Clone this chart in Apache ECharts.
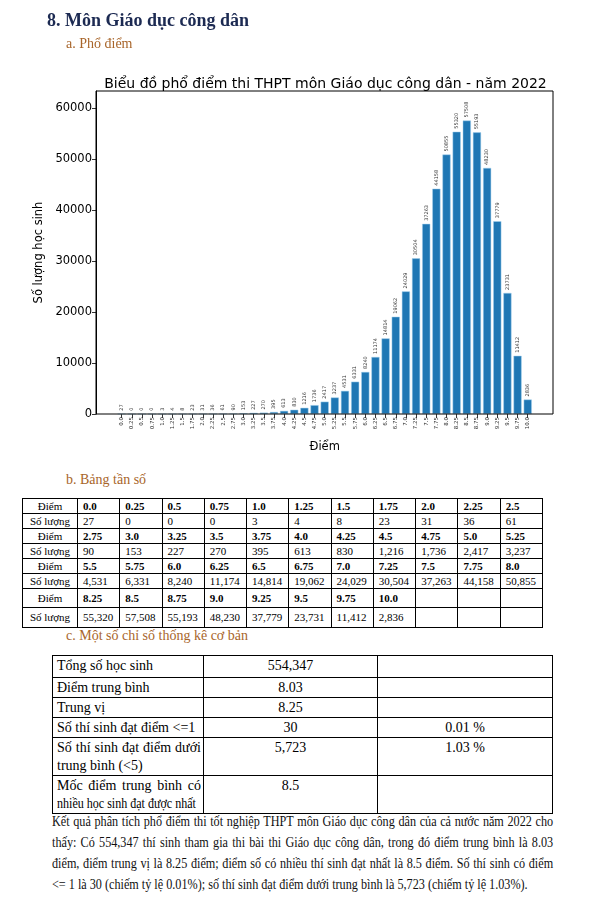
<!DOCTYPE html>
<html><head><meta charset="utf-8">
<script src="https://cdn.jsdelivr.net/npm/echarts@6/dist/echarts.min.js"></script>
<style>
html,body{margin:0;padding:0;background:#fff;width:606px;height:905px;overflow:hidden;}
#chart{position:absolute;left:0;top:0;width:606px;height:465px;}
.abs{position:absolute;font-family:"Liberation Serif","Times New Roman",serif;}
#h1{left:47px;top:10px;font-size:18px;font-weight:bold;color:#1c2a52;}
.sub{font-size:14px;color:#a8652a;}
table{border-collapse:collapse;}
#tb td{border:1px solid #000;font-size:11px;padding:0 0 0 5px;height:14px;line-height:13px;font-family:"Liberation Serif",serif;}
#tb td.lab{text-align:center;padding:0;}
#tb tr.pt td{font-weight:bold;}
#tb tr.pt td.lab{font-weight:normal;}
#tc{table-layout:fixed;}
#tc td{border:1px solid #000;font-size:14px;line-height:18px;padding:0 3px;vertical-align:top;font-family:"Liberation Serif",serif;overflow:visible;}
#tc td.c1{text-align:justify;padding:1px 2px 0 4px;}
#tc td.c2,#tc td.c3{text-align:center;padding-top:1px;}
#tc .l1{text-align:justify;text-align-last:justify;white-space:nowrap;}
#tc .l2{white-space:nowrap;transform:scaleX(0.86);transform-origin:0 0;}
#para{left:52px;top:811px;width:576px;font-size:14px;line-height:21px;text-align:justify;color:#111;transform:scaleX(0.87);transform-origin:0 0;}
</style></head>
<body>
<div id="chart"></div>
<div id="h1" class="abs">8. Môn Giáo dục công dân</div>
<div class="abs sub" style="left:66px;top:36px;">a. Phổ điểm</div>
<div class="abs sub" style="left:66px;top:472px;">b. Bảng tần số</div>
<table id="tb" class="abs" style="left:22px;top:498px;width:521px;"></table>
<div class="abs sub" style="left:66px;top:628px;">c. Một số chỉ số thống kê cơ bản</div>
<table id="tc" class="abs" style="left:52px;top:655px;width:501px;"></table>
<div id="para" class="abs">Kết quả phân tích phổ điểm thi tốt nghiệp THPT môn Giáo dục công dân của cả nước năm 2022 cho thấy: Có 554,347 thí sinh tham gia thi bài thi Giáo dục công dân, trong đó điểm trung bình là 8.03 điểm, điểm trung vị là 8.25 điểm; điểm số có nhiều thí sinh đạt nhất là 8.5 điểm. Số thí sinh có điểm &lt;= 1 là 30 (chiếm tỷ lệ 0.01%); số thí sinh đạt điểm dưới trung bình là 5,723 (chiếm tỷ lệ 1.03%).</div>
<script>
var scores = ['0.0','0.25','0.5','0.75','1.0','1.25','1.5','1.75','2.0','2.25','2.5',
  '2.75','3.0','3.25','3.5','3.75','4.0','4.25','4.5','4.75','5.0','5.25',
  '5.5','5.75','6.0','6.25','6.5','6.75','7.0','7.25','7.5','7.75','8.0',
  '8.25','8.5','8.75','9.0','9.25','9.5','9.75','10.0'];
var counts = [27,0,0,0,3,4,8,23,31,36,61,
  90,153,227,270,395,613,830,1216,1736,2417,3237,
  4531,6331,8240,11174,14814,19062,24029,30504,37263,44158,50855,
  55320,57508,55193,48230,37779,23731,11412,2836];
var yTicks = [0,10000,20000,30000,40000,50000,60000];
var statLabels = ['Tổng số học sinh','Điểm trung bình','Trung vị','Số thí sinh đạt điểm <=1','Số thí sinh đạt điểm dưới trung bình (<5)','Mốc điểm trung bình có nhiều học sinh đạt được nhất'];
var statValues = ['554,347','8.03','8.25','30','5,723','8.5'];
var statPercents = ['','','','0.01 %','1.03 %',''];
var chartTitle = 'Biểu đồ phổ điểm thi THPT môn Giáo dục công dân - năm 2022';

(function(){
  var tb = document.getElementById('tb'), html = '';
  var rowH = [[14,15],[15,15],[15,15],[19,20]];
  for (var r = 0; r < 4; r++) {
    var s = scores.slice(r*11, r*11+11), c = counts.slice(r*11, r*11+11);
    var h1 = '<tr class="pt" style="height:'+rowH[r][0]+'px"><td class="lab" style="width:54px">Điểm</td>';
    var h2 = '<tr style="height:'+rowH[r][1]+'px"><td class="lab">Số lượng</td>';
    for (var i = 0; i < 11; i++) {
      h1 += '<td>' + (s[i] !== undefined ? s[i] : '') + '</td>';
      h2 += '<td>' + (c[i] !== undefined ? c[i].toLocaleString('en-US') : '') + '</td>';
    }
    html += h1 + '</tr>' + h2 + '</tr>';
  }
  tb.innerHTML = html;
  var tc = document.getElementById('tc'), h = '';
  var heights = [22,20,20,20,38,35];
  function esc(t){return t.replace(/</g,'&lt;');}
  h += '<colgroup><col style="width:151px"><col style="width:174px"><col></colgroup>';
  for (var k = 0; k < statLabels.length; k++) {
    var lab = esc(statLabels[k]);
    if (k === 5) {
      var w = statLabels[k].split(' ');
      lab = '<div class="l1">' + w.slice(0, 5).join(' ') + '</div><div class="l2">' + w.slice(5).join(' ') + '</div>';
    }
    h += '<tr style="height:'+heights[k]+'px"><td class="c1">'+lab+'</td><td class="c2">'+statValues[k]+'</td><td class="c3">'+statPercents[k]+'</td></tr>';
  }
  tc.innerHTML = h;
})();

var chart = echarts.init(document.getElementById('chart'), null, {renderer:'canvas'});
var F = 'DejaVu Sans';
chart.setOption({
  animation: false,
  textStyle: {fontFamily: F},
  title: {text: chartTitle, left: 320.5, top: 72, textAlign: 'center',
    textStyle: {fontFamily: F, fontSize: 14, fontWeight: 'normal', color: '#000'}},
  grid: {left: 116.6, width: 416.2, top: 91, height: 323, containLabel: false},
  xAxis: {type: 'category', data: scores, boundaryGap: true,
    name: 'Điểm', nameLocation: 'middle', nameGap: 27,
    nameTextStyle: {fontFamily: F, fontSize: 11.5, color: '#000'},
    axisLine: {show: false},
    axisTick: {show: true, alignWithLabel: true, length: 4, lineStyle: {color: '#000', width: 0.8}},
    axisLabel: {rotate: 90, fontSize: 5.5, color: '#333', margin: 3, interval: 0, fontFamily: F}
  },
  yAxis: {type: 'value', min: 0, max: 63300, offset: 20.6,
    name: 'Số lượng học sinh', nameLocation: 'middle', nameGap: 43,
    nameTextStyle: {fontFamily: F, fontSize: 11.5, color: '#000'},
    splitLine: {show: false},
    axisLine: {show: true, lineStyle: {color: '#000', width: 1}},
    axisTick: {show: true, length: 4, customValues: yTicks, lineStyle: {color: '#000', width: 0.8}},
    axisLabel: {customValues: yTicks, fontSize: 11.5, color: '#000', margin: 4, fontFamily: F,
      formatter: function (v) { return String(v); }}
  },
  graphic: [{type: 'rect', shape: {x: 96, y: 91, width: 457, height: 323},
    style: {fill: 'none', stroke: '#000', lineWidth: 1}, z: 10, silent: true}],
  series: [{type: 'bar', data: counts, barWidth: '80%',
    itemStyle: {color: '#1f77b4', borderColor: '#a6d3ef', borderWidth: 0.5},
    label: {show: true, position: 'top', rotate: 90, align: 'left', verticalAlign: 'middle',
      distance: 3, fontSize: 5, color: '#333', fontFamily: F}
  }]
});
</script>
</body></html>
